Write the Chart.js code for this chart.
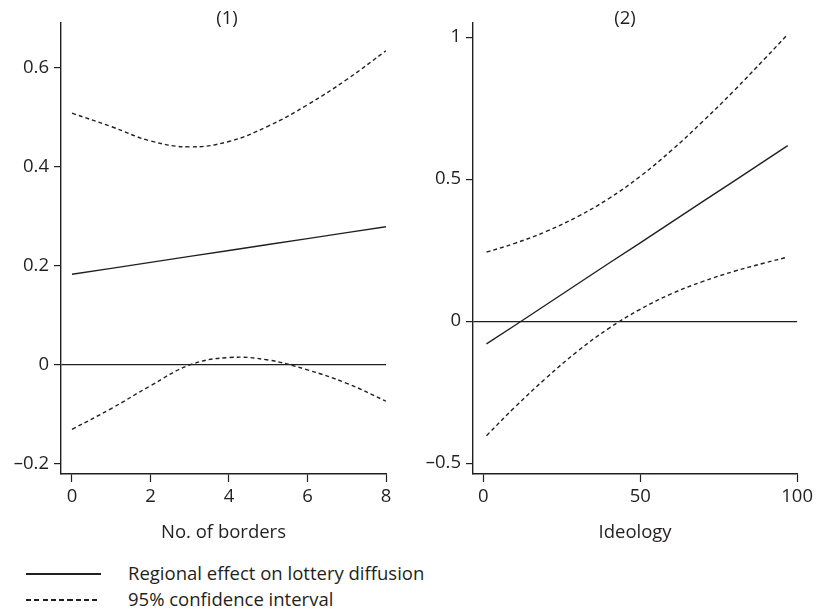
<!DOCTYPE html>
<html>
<head>
<meta charset="utf-8">
<script src="https://cdn.jsdelivr.net/npm/chart.js@4.4.1/dist/chart.umd.min.js"></script>
<style>
  html, body { margin: 0; padding: 0; background: #fff; }
  body { width: 817px; height: 609px; position: relative; overflow: hidden;
         font-family: "Open Sans", sans-serif; color: #231f20; }
  canvas { position: absolute; top: 0; }
  #left { left: 0; }
  #right { left: 410px; }
  .key { position: absolute; left: 26px; font-size: 18.5px; line-height: 22px; }
  .key .sample { position: absolute; left: 0; width: 75px; height: 1.5px; }
  .key .label { position: absolute; left: 102px; top: -11px; white-space: nowrap; }
  .solid { background: #231f20; }
  .dashed { background: repeating-linear-gradient(90deg, #231f20 0 5px, transparent 5px 8.3px); }
</style>
</head>
<body>
<canvas id="left" width="410" height="545"></canvas>
<canvas id="right" width="407" height="545"></canvas>

<div class="key" style="top:573px">
  <div class="sample solid"></div><div class="label">Regional effect on lottery diffusion</div>
</div>
<div class="key" style="top:599px">
  <div class="sample dashed"></div><div class="label">95% confidence interval</div>
</div>

<script>
// panel (1): number of borders
const bordersX = [0, 1, 2, 3, 4, 5, 6, 7, 8];
const bordersEffect = [0.183, 0.195, 0.207, 0.219, 0.231, 0.243, 0.255, 0.267, 0.279];
const bordersUpper = [0.508, 0.481, 0.452, 0.440, 0.451, 0.482, 0.525, 0.576, 0.634];
const bordersLower = [-0.130, -0.088, -0.042, 0.000, 0.015, 0.010, -0.010, -0.037, -0.073];
const bordersXTicks = [0, 2, 4, 6, 8];
const bordersYTicks = [-0.2, 0, 0.2, 0.4, 0.6];
const bordersYLabels = ["\u20130.2", "0", "0.2", "0.4", "0.6"];

// panel (2): ideology
const ideologyX = [1, 10, 20, 30, 40, 50, 60, 70, 80, 90, 97];
const ideologyEffect = [-0.080, -0.015, 0.058, 0.131, 0.204, 0.276, 0.349, 0.422, 0.494, 0.567, 0.618];
const ideologyUpper = [0.243, 0.274, 0.316, 0.368, 0.432, 0.510, 0.602, 0.704, 0.813, 0.928, 1.010];
const ideologyLower = [-0.403, -0.303, -0.200, -0.106, -0.025, 0.042, 0.097, 0.140, 0.176, 0.206, 0.226];
const ideologyXTicks = [0, 50, 100];
const ideologyYTicks = [-0.5, 0, 0.5, 1];
const ideologyYLabels = ["\u20130.5", "0", "0.5", "1"];

const INK = "#231f20";
const FONT_SIZE = 18.5;

Chart.defaults.font.family = "'Open Sans', sans-serif";
Chart.defaults.font.size = FONT_SIZE;
Chart.defaults.color = INK;

const panelTitle = {
  id: "panelTitle",
  afterDraw(chart, args, opts) {
    const ctx = chart.ctx;
    ctx.save();
    ctx.font = FONT_SIZE + "px 'Open Sans', sans-serif";
    ctx.fillStyle = INK;
    ctx.textAlign = "center";
    ctx.textBaseline = "middle";
    ctx.fillText(opts.text, opts.x, opts.y);
    ctx.restore();
  }
};

function pts(xs, ys) {
  return xs.map((x, i) => ({ x: x, y: ys[i] }));
}

function panel(canvasId, cfg) {
  const line = (data, dashed) => ({
    data: data,
    borderColor: INK,
    borderWidth: 1.4,
    borderDash: dashed ? [4, 3] : [],
    pointRadius: 0,
    tension: dashed ? 0.4 : 0,
    fill: false
  });

  return new Chart(document.getElementById(canvasId), {
    type: "line",
    data: {
      datasets: [
        line(pts(cfg.xs, cfg.effect), false),
        line(pts(cfg.xs, cfg.upper), true),
        line(pts(cfg.xs, cfg.lower), true)
      ]
    },
    options: {
      responsive: false,
      animation: false,
      events: [],
      layout: { padding: { top: cfg.top, right: cfg.right, left: 0, bottom: 0 } },
      plugins: {
        legend: { display: false },
        tooltip: { enabled: false },
        panelTitle: { text: cfg.title, x: cfg.titleX, y: 19 }
      },
      scales: {
        x: {
          type: "linear",
          min: cfg.xMin,
          max: cfg.xMax,
          afterBuildTicks: (s) => { s.ticks = cfg.xTicks.map((v) => ({ value: v })); },
          afterFit: (s) => { s.height = 71; },
          ticks: { padding: 4, maxRotation: 0, autoSkip: false, callback: (v) => String(v) },
          grid: { drawOnChartArea: false, tickLength: 8, tickColor: INK, tickWidth: 1.2 },
          border: { display: true, color: INK, width: 1.4 },
          title: { display: true, text: cfg.xTitle, padding: { top: 12, bottom: 1 } }
        },
        y: {
          type: "linear",
          min: cfg.yMin,
          max: cfg.yMax,
          afterBuildTicks: (s) => { s.ticks = cfg.yTicks.map((v) => ({ value: v })); },
          afterFit: (s) => { s.width = cfg.yWidth; },
          ticks: { padding: 5, callback: (v, i) => cfg.yLabels[i] },
          grid: {
            drawOnChartArea: true,
            tickLength: 7,
            tickColor: INK,
            tickWidth: 1.2,
            color: (c) => (c.tick && c.tick.value === 0 ? INK : "rgba(0,0,0,0)"),
            lineWidth: 1.2
          },
          border: { display: true, color: INK, width: 1.4 }
        }
      }
    },
    plugins: [panelTitle]
  });
}

panel("left", {
  xs: bordersX, effect: bordersEffect, upper: bordersUpper, lower: bordersLower,
  xTicks: bordersXTicks, yTicks: bordersYTicks, yLabels: bordersYLabels,
  xMin: -0.28, xMax: 8, yMin: -0.22, yMax: 0.69,
  xTitle: "No. of borders", title: "(1)", titleX: 227, top: 23, right: 24, yWidth: 61
});

panel("right", {
  xs: ideologyX, effect: ideologyEffect, upper: ideologyUpper, lower: ideologyLower,
  xTicks: ideologyXTicks, yTicks: ideologyYTicks, yLabels: ideologyYLabels,
  xMin: -3.3, xMax: 100, yMin: -0.538, yMax: 1.05,
  xTitle: "Ideology", title: "(2)", titleX: 215, top: 23, right: 14, yWidth: 63
});
</script>
</body>
</html>
